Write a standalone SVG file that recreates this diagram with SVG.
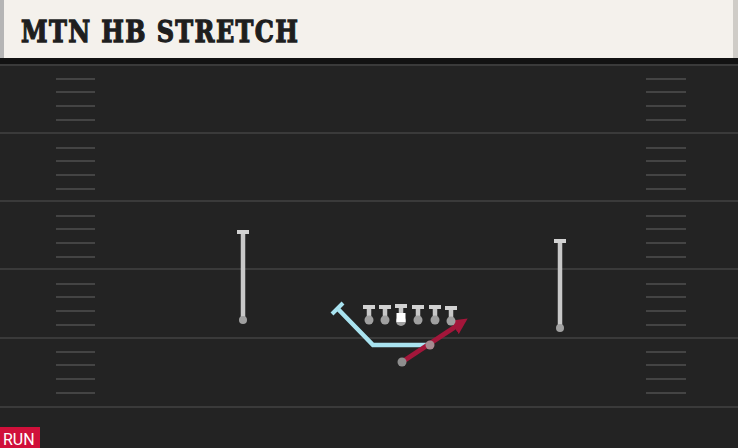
<svg xmlns="http://www.w3.org/2000/svg" width="738" height="448" viewBox="0 0 738 448">
<defs>
<style>
.yard{stroke:#3a3a3a;stroke-width:2}
.hash{stroke:#444444;stroke-width:2}
.pl{stroke:#c8c8c8;stroke-width:4.5;fill:none}
.cap{stroke:#d2d2d2;stroke-width:4}
.dot{fill:#a0a0a0}
.title{font-family:"DejaVu Serif",serif;font-weight:bold;font-size:24px;fill:#1e1e1e;stroke:#1e1e1e;stroke-width:1}
</style>
<marker id="arr" viewBox="0 0 10 10" refX="5" refY="5" markerWidth="3.2" markerHeight="3.2" orient="auto" markerUnits="strokeWidth">
<path d="M0,0 L10,5 L0,10 z" fill="#a3163a"/>
</marker>
</defs>
<rect x="0" y="0" width="738" height="448" fill="#232323"/>
<g id="header">
<rect x="0" y="0" width="738" height="58" fill="#f4f1ec"/>
<rect x="733" y="0" width="5" height="58" fill="#cfccc7"/>
<rect x="0" y="0" width="4" height="58" fill="#b5b5b5"/>
<rect x="0" y="58" width="738" height="6" fill="#121212"/>
<text class="title" transform="translate(21,42) scale(1,1.25)" x="0" y="0" textLength="277" lengthAdjust="spacing">MTN HB STRETCH</text>
</g>
<g id="field">
<line class="yard" x1="0" y1="65" x2="738" y2="65"/>
<line class="yard" x1="0" y1="133" x2="738" y2="133"/>
<line class="yard" x1="0" y1="201" x2="738" y2="201"/>
<line class="yard" x1="0" y1="269" x2="738" y2="269"/>
<line class="yard" x1="0" y1="338" x2="738" y2="338"/>
<line class="yard" x1="0" y1="407" x2="738" y2="407"/>
<g id="hashes">
<path class="hash" d="M56 79H95M56 92H95M56 106H95M56 120H95M56 148H95M56 161H95M56 175H95M56 189H95M56 216H95M56 229H95M56 243H95M56 257H95M56 284H95M56 297H95M56 311H95M56 325H95M56 352H95M56 365H95M56 379H95M56 393H95"/>
<path class="hash" d="M646 79H686M646 92H686M646 106H686M646 120H686M646 148H686M646 161H686M646 175H686M646 189H686M646 216H686M646 229H686M646 243H686M646 257H686M646 284H686M646 297H686M646 311H686M646 325H686M646 352H686M646 365H686M646 379H686M646 393H686"/>
</g>
</g>
<g id="connectors">
<path id="blue-route" d="M338 309 L373 345 L430 345" stroke="#a9e3f0" stroke-width="4.5" fill="none" stroke-linejoin="miter"/>
<line x1="332" y1="314" x2="343" y2="303" stroke="#a9e3f0" stroke-width="4"/>
<line id="red-route" x1="402" y1="362" x2="461" y2="323" stroke="#a3163a" stroke-width="5" marker-end="url(#arr)"/>
</g>
<g id="wr-left">
<line class="pl" x1="243" y1="232" x2="243" y2="319"/>
<line class="cap" x1="237" y1="232" x2="249" y2="232"/>
<circle class="dot" cx="243" cy="320" r="4"/>
</g>
<g id="wr-right">
<line class="pl" x1="560" y1="241" x2="560" y2="327"/>
<line class="cap" x1="554" y1="241" x2="566" y2="241"/>
<circle class="dot" cx="560" cy="328" r="4"/>
</g>
<g id="ol-1"><line class="pl" x1="369" y1="307" x2="369" y2="319"/><line class="cap" x1="363" y1="307" x2="375" y2="307"/><circle class="dot" cx="369" cy="320" r="4.5"/></g>
<g id="ol-2"><line class="pl" x1="385" y1="307" x2="385" y2="319"/><line class="cap" x1="379" y1="307" x2="391" y2="307"/><circle class="dot" cx="385" cy="320" r="4.5"/></g>
<g id="center"><line class="pl" x1="401" y1="306" x2="401" y2="314"/><line class="cap" x1="395" y1="306" x2="407" y2="306"/><circle class="dot" cx="401" cy="321" r="5"/><rect x="396.5" y="313" width="9" height="9" fill="#ffffff"/></g>
<g id="ol-4"><line class="pl" x1="418" y1="307" x2="418" y2="319"/><line class="cap" x1="412" y1="307" x2="424" y2="307"/><circle class="dot" cx="418" cy="320" r="4.5"/></g>
<g id="ol-5"><line class="pl" x1="435" y1="307" x2="435" y2="319"/><line class="cap" x1="429" y1="307" x2="441" y2="307"/><circle class="dot" cx="435" cy="320" r="4.5"/></g>
<g id="ol-6"><line class="pl" x1="451" y1="308" x2="451" y2="320"/><line class="cap" x1="445" y1="308" x2="457" y2="308"/><circle class="dot" cx="451" cy="321" r="4.5"/></g>
<g id="hb"><circle cx="402" cy="362" r="4.5" fill="#8e8e8e"/></g>
<g id="handoff"><circle cx="430" cy="345" r="4.5" fill="#a58a90"/></g>
<g id="run-tag">
<rect x="0" y="427" width="40" height="21" fill="#d0103a"/>
<text x="3" y="445" font-family="Roboto, 'Liberation Sans', sans-serif" font-size="16" fill="#ffffff">RUN</text>
</g>
</svg>
